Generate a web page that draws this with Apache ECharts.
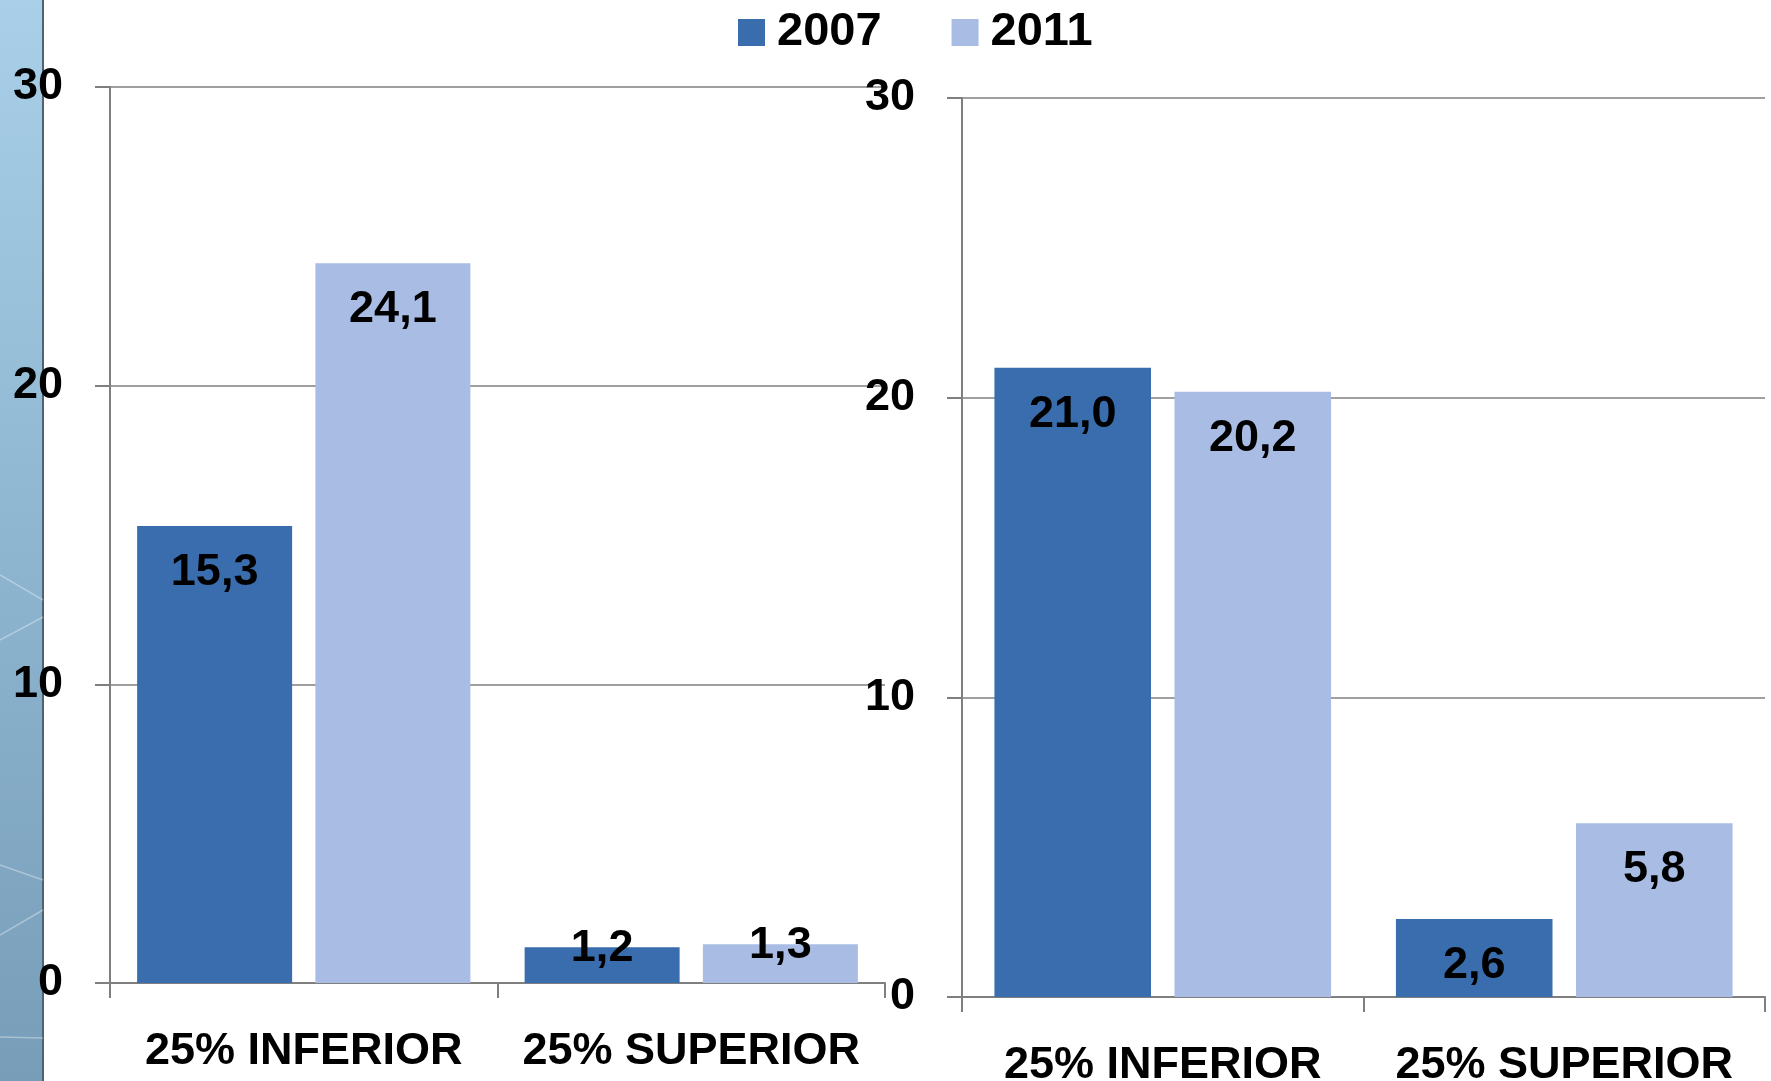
<!DOCTYPE html>
<html>
<head>
<meta charset="utf-8">
<script src="https://cdn.jsdelivr.net/npm/echarts@6/dist/echarts.min.js"></script>
<style>
  html, body { margin: 0; padding: 0; background: #fff; }
  #chart { width: 1771px; height: 1081px; }
</style>
</head>
<body>
<div id="chart"></div>
<script>
// data
const categories = ['25% INFERIOR', '25% SUPERIOR']
const seriesNames = ['2007', '2011']
const left2007 = [15.3, 1.2]
const left2011 = [24.1, 1.3]
const right2007 = [21.0, 2.6]
const right2011 = [20.2, 5.8]
const yMin = 0
const yMax = 30
const yStep = 10

const colors = ['#3a6dae', '#a8bce4']
const font = '"Liberation Sans", Arial, sans-serif'

const fmt = (p) => p.value.toFixed(1).replace('.', ',')

// small bars: label sits across the top of the bar
function withLabels(values) {
  return values.map((v) => {
    if (v < 2) {
      return { value: v, label: { position: 'top', distance: -24 } }
    }
    return v
  })
}

function xAxisFor(idx) {
  return {
    type: 'category',
    gridIndex: idx,
    data: categories,
    axisLine: { lineStyle: { color: '#7f7f7f', width: 2 } },
    axisTick: { show: true, length: 15, lineStyle: { color: '#7f7f7f', width: 2 } },
    axisLabel: {
      interval: 0,
      hideOverlap: false,
      color: '#000', fontFamily: font, fontWeight: 'bold', fontSize: 45, margin: 46,
    },
  }
}

function yAxisFor(idx) {
  return {
    type: 'value',
    gridIndex: idx,
    min: yMin,
    max: yMax,
    interval: yStep,
    axisLine: { show: true, lineStyle: { color: '#7f7f7f', width: 2 } },
    axisTick: { show: true, inside: false, length: 15, lineStyle: { color: '#7f7f7f', width: 2 } },
    splitLine: { show: true, lineStyle: { color: '#7f7f7f', width: 1.5 } },
    axisLabel: {
      color: '#000', fontFamily: font, fontWeight: 'bold', fontSize: 45, margin: 47,
    },
  }
}

function barSeries(name, idx, values, color, width) {
  return {
    name: name,
    type: 'bar',
    xAxisIndex: idx,
    yAxisIndex: idx,
    data: withLabels(values),
    barWidth: width,
    barGap: '15%',
    itemStyle: { color: color },
    label: {
      show: true,
      position: 'insideTop',
      distance: 24,
      formatter: fmt,
      color: '#000',
      fontFamily: font,
      fontWeight: 'bold',
      fontSize: 45,
    },
  }
}

const option = {
  animation: false,
  legend: {
    data: seriesNames,
    top: 4,
    left: 733,
    itemWidth: 27,
    itemHeight: 27,
    itemGap: 70,
    icon: 'rect',
    textStyle: {
      color: '#000', fontFamily: font, fontWeight: 'bold', fontSize: 47, padding: [0, 0, 0, 7],
    },
  },
  graphic: [
    {
      type: 'rect',
      shape: { x: 0, y: 0, width: 43, height: 1081 },
      style: {
        fill: {
          type: 'linear', x: 0, y: 0, x2: 0, y2: 1,
          colorStops: [
            { offset: 0, color: '#a9d0e8' },
            { offset: 0.5, color: '#8fb6d0' },
            { offset: 1, color: '#779db8' },
          ],
        },
      },
      z: -1,
    },
    {
      type: 'line',
      shape: { x1: 43, y1: 0, x2: 43, y2: 1081 },
      style: { stroke: '#4f6274', lineWidth: 2 },
      z: -1,
    },
    {
      type: 'line',
      shape: { x1: 0, y1: 575, x2: 43, y2: 600 },
      style: { stroke: 'rgba(255,255,255,0.35)', lineWidth: 1.5 },
      z: -1,
    },
    {
      type: 'line',
      shape: { x1: 0, y1: 640, x2: 43, y2: 617 },
      style: { stroke: 'rgba(255,255,255,0.35)', lineWidth: 1.5 },
      z: -1,
    },
    {
      type: 'line',
      shape: { x1: 0, y1: 865, x2: 43, y2: 880 },
      style: { stroke: 'rgba(255,255,255,0.35)', lineWidth: 1.5 },
      z: -1,
    },
    {
      type: 'line',
      shape: { x1: 0, y1: 935, x2: 43, y2: 910 },
      style: { stroke: 'rgba(255,255,255,0.35)', lineWidth: 1.5 },
      z: -1,
    },
    {
      type: 'line',
      shape: { x1: 0, y1: 1037, x2: 43, y2: 1038 },
      style: { stroke: 'rgba(255,255,255,0.35)', lineWidth: 1.5 },
      z: -1,
    },
  ],
  grid: [
    { left: 110, top: 87, width: 775, height: 896, outerBoundsMode: 'none' },
    { left: 962, top: 98, width: 803, height: 899, outerBoundsMode: 'none' },
  ],
  xAxis: [xAxisFor(0), xAxisFor(1)],
  yAxis: [yAxisFor(0), yAxisFor(1)],
  series: [
    barSeries('2007', 0, left2007, colors[0], '40%'),
    barSeries('2011', 0, left2011, colors[1], '40%'),
    barSeries('2007', 1, right2007, colors[0], '39%'),
    barSeries('2011', 1, right2011, colors[1], '39%'),
  ],
}

const chartObj = echarts.init(document.getElementById('chart'))
chartObj.setOption(option)
</script>
</body>
</html>
